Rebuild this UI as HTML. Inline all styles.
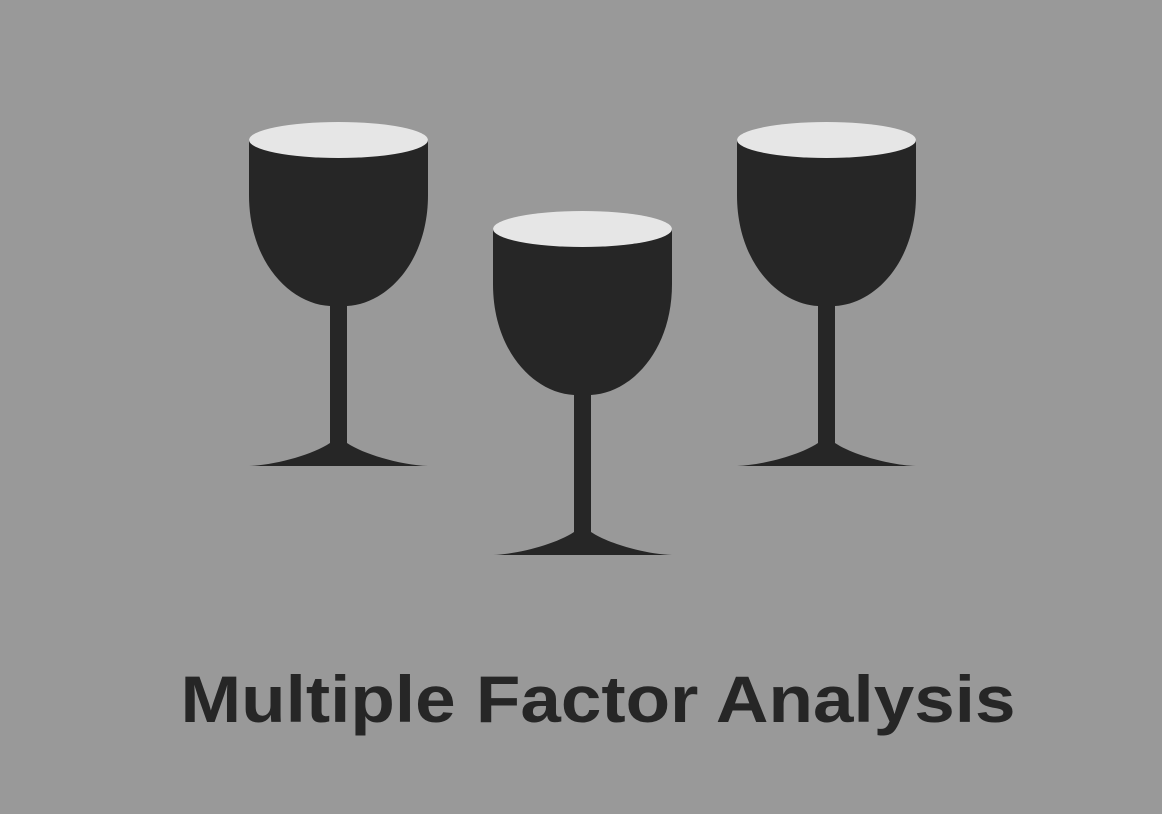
<!DOCTYPE html>
<html><head><meta charset="utf-8"><style>html,body{margin:0;padding:0;background:#999;}svg{display:block}</style></head>
<body>
<svg width="1162" height="814" viewBox="0 0 1162 814">
<rect width="1162" height="814" fill="#999999"/>
<defs>
<g id="glass">
<path d="M249,140 L249,195 C249,262 290,304 330,306 L330,443 C312,455 275,465 249,466 L428,466 C402,465 365,455 347,443 L347,306 C387,304 428,262 428,195 L428,140 Z" fill="#262626"/>
<ellipse cx="338.5" cy="140" rx="89.5" ry="18" fill="#e6e6e6"/>
</g>
</defs>
<use href="#glass"/>
<use href="#glass" transform="translate(244,89)"/>
<use href="#glass" transform="translate(488,0)"/>
<text x="598" y="722" text-anchor="middle" font-family="Liberation Sans, sans-serif" font-weight="bold" font-size="66" fill="#262626" textLength="835" lengthAdjust="spacingAndGlyphs">Multiple Factor Analysis</text>
</svg>
</body></html>
